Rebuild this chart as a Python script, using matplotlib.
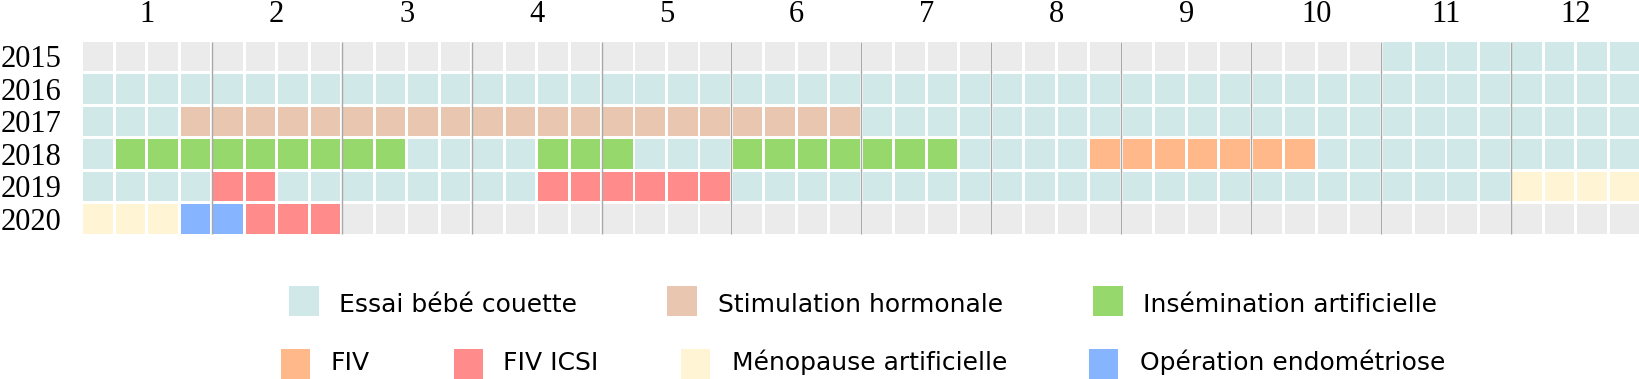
import matplotlib
matplotlib.use("Agg")
import matplotlib.pyplot as plt
from matplotlib.patches import Rectangle

# ---------------- data ----------------
categories = ["Aucun", "Essai bébé couette", "Stimulation hormonale",
              "Insémination artificielle", "FIV", "FIV ICSI",
              "Ménopause artificielle", "Opération endométriose"]
colors = ["#ebebeb", "#d1e8e8", "#e8c6b0", "#96d86b", "#ffb88a",
          "#ff8b8b", "#fff4d3", "#87b4ff"]

years = ["2015", "2016", "2017", "2018", "2019", "2020"]
months = ["1", "2", "3", "4", "5", "6", "7", "8", "9", "10", "11", "12"]

# one code per week (4 weeks per month), index into categories
weeks_2015 = [0, 0, 0, 0,  0, 0, 0, 0,  0, 0, 0, 0,  0, 0, 0, 0,  0, 0, 0, 0,  0, 0, 0, 0,
              0, 0, 0, 0,  0, 0, 0, 0,  0, 0, 0, 0,  0, 0, 0, 0,  1, 1, 1, 1,  1, 1, 1, 1]
weeks_2016 = [1, 1, 1, 1,  1, 1, 1, 1,  1, 1, 1, 1,  1, 1, 1, 1,  1, 1, 1, 1,  1, 1, 1, 1,
              1, 1, 1, 1,  1, 1, 1, 1,  1, 1, 1, 1,  1, 1, 1, 1,  1, 1, 1, 1,  1, 1, 1, 1]
weeks_2017 = [1, 1, 1, 2,  2, 2, 2, 2,  2, 2, 2, 2,  2, 2, 2, 2,  2, 2, 2, 2,  2, 2, 2, 2,
              1, 1, 1, 1,  1, 1, 1, 1,  1, 1, 1, 1,  1, 1, 1, 1,  1, 1, 1, 1,  1, 1, 1, 1]
weeks_2018 = [1, 3, 3, 3,  3, 3, 3, 3,  3, 3, 1, 1,  1, 1, 3, 3,  3, 1, 1, 1,  3, 3, 3, 3,
              3, 3, 3, 1,  1, 1, 1, 4,  4, 4, 4, 4,  4, 4, 1, 1,  1, 1, 1, 1,  1, 1, 1, 1]
weeks_2019 = [1, 1, 1, 1,  5, 5, 1, 1,  1, 1, 1, 1,  1, 1, 5, 5,  5, 5, 5, 5,  1, 1, 1, 1,
              1, 1, 1, 1,  1, 1, 1, 1,  1, 1, 1, 1,  1, 1, 1, 1,  1, 1, 1, 1,  6, 6, 6, 6]
weeks_2020 = [6, 6, 6, 7,  7, 5, 5, 5,  0, 0, 0, 0,  0, 0, 0, 0,  0, 0, 0, 0,  0, 0, 0, 0,
              0, 0, 0, 0,  0, 0, 0, 0,  0, 0, 0, 0,  0, 0, 0, 0,  0, 0, 0, 0,  0, 0, 0, 0]
weeks_by_year = [weeks_2015, weeks_2016, weeks_2017, weeks_2018, weeks_2019, weeks_2020]

legend_row1 = [1, 2, 3]
legend_row2 = [4, 5, 6, 7]

# ---------------- figure ----------------
W, H = 1640, 379
fig = plt.figure(figsize=(W / 100, H / 100), dpi=100)

x0, x1 = 81.85, 1640.9
y0, y1 = 40.25, 235.1
ax = fig.add_axes([x0 / W, 1 - y1 / H, (x1 - x0) / W, (y1 - y0) / H])

gap = 0.09
n_weeks = 48
for r, wk in enumerate(weeks_by_year):
    xs = [c + 0.5 for c in range(len(wk))]
    ax.bar(xs, [1 - gap] * len(wk), width=1 - gap, bottom=r + gap / 2,
           color=[colors[k] for k in wk], linewidth=0, zorder=1)

# month separators
ax.vlines([4 * m for m in range(1, 12)], gap / 2, len(years) - gap / 2,
          color="#a8a8a8", linewidth=1.0, zorder=3)

ax.set_xlim(0, n_weeks)
ax.set_ylim(len(years), 0)
for s in ax.spines.values():
    s.set_visible(False)

ax.xaxis.tick_top()
ax.set_xticks([4 * i + 2 for i in range(12)])
ax.set_xticklabels(months, family="Liberation Serif", fontsize=22)
ax.set_yticks([i + 0.5 for i in range(len(years))])
ax.set_yticklabels(years, family="Liberation Serif", fontsize=22)
ax.tick_params(axis="x", length=0, pad=8.3)
ax.tick_params(axis="y", length=0, pad=14.6)

# ---------------- legend (pixel layout) ----------------
lax = fig.add_axes([0, 0, 1, 1])
lax.set_xlim(0, W)
lax.set_ylim(H, 0)
lax.axis("off")

row1_pos = [(289.3, 339.3), (667.3, 718.3), (1093.3, 1143.3)]
row2_pos = [(280.7, 331.0), (454.0, 503.3), (680.7, 731.7), (1089.0, 1140.0)]
rows = [(legend_row1, row1_pos, 286.0, 311.7), (legend_row2, row2_pos, 349.3, 370.0)]
for idxs, pos, ptop, base in rows:
    for k, (px, tx) in zip(idxs, pos):
        lax.add_patch(Rectangle((px, ptop), 29.4, 29.8, facecolor=colors[k],
                                edgecolor="none"))
        lax.text(tx, base, categories[k], family="DejaVu Sans", fontsize=18,
                 va="baseline", ha="left", color="#000000")

fig.savefig("out.png", dpi=100)
